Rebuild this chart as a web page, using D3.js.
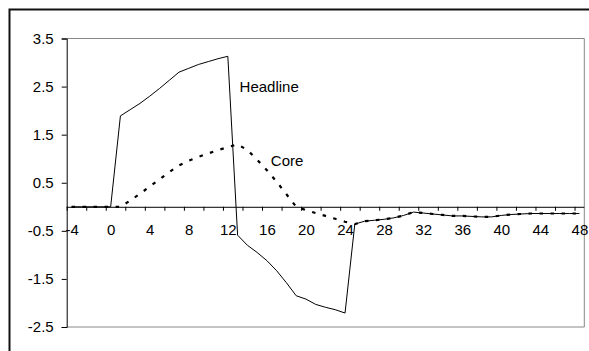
<!DOCTYPE html>
<html>
<head>
<meta charset="utf-8">
<script src="https://cdn.jsdelivr.net/npm/d3@7"></script>
<style>
  html, body { margin: 0; padding: 0; background: #fff; overflow: hidden; }
  svg { display: block; font-family: "Liberation Sans", Arial, sans-serif; }
</style>
</head>
<body>
<svg id="chart" width="589" height="351"></svg>
<script>
// Months relative to the shock
const months = d3.range(-4, 49);

// Headline response
const headline = [
  0, 0, 0, 0, 0,
  1.89, 2.02, 2.15, 2.30, 2.46, 2.63, 2.80, 2.88, 2.96, 3.02, 3.08, 3.13,
  -0.59, -0.80, -0.95, -1.12, -1.33, -1.58, -1.85, -1.92, -2.03, -2.09, -2.14, -2.21,
  -0.36, -0.30, -0.28, -0.26, -0.23, -0.18, -0.11, -0.13, -0.15, -0.17, -0.19, -0.19,
  -0.20, -0.21, -0.21, -0.18, -0.16, -0.15, -0.14, -0.14, -0.14, -0.14, -0.14, -0.14
];

// Core response
const core = [
  0, 0, 0, 0, 0, 0,
  0.13, 0.27, 0.42, 0.57, 0.72, 0.86, 0.96, 1.04, 1.11, 1.18, 1.24, 1.30,
  1.18, 0.98, 0.76, 0.52, 0.26, 0.00, -0.07, -0.13, -0.19, -0.25, -0.31, -0.36,
  -0.30, -0.28, -0.26, -0.23, -0.18, -0.11, -0.13, -0.15, -0.17, -0.19, -0.19,
  -0.20, -0.21, -0.21, -0.18, -0.16, -0.15, -0.14, -0.14, -0.14, -0.14, -0.14, -0.14
];

const xTickLabels = d3.range(-4, 49, 4);
const yTickLabels = [-2.5, -1.5, -0.5, 0.5, 1.5, 2.5, 3.5];

// Series labels, placed in data coordinates
const seriesLabels = [
  { text: "Headline", month: 13.2, value: 2.38 },
  { text: "Core", month: 16.4, value: 0.85 }
];

const svg = d3.select("#chart");
const plotLeft = 66.7, plotRight = 584.3, plotTop = 38.5, plotBottom = 327;

// Category axis: each month occupies one slot, points sit at slot centres
const x = d3.scaleLinear().domain([-4.5, 48.5]).range([plotLeft, plotRight]);
const y = d3.scaleLinear().domain([-2.5, 3.5]).range([plotBottom, plotTop]);

// Outer chart frame (left and top edges fall inside the canvas)
svg.append("path")
  .attr("d", "M9.5,351V9.5H589")
  .attr("fill", "none").attr("stroke", "#111").attr("stroke-width", 2);

// Plot area frame: top, right and bottom edges in grey
svg.append("path")
  .attr("d", `M${plotLeft},${plotTop}H${plotRight}V${plotBottom}H${plotLeft}`)
  .attr("fill", "none").attr("stroke", "#888").attr("stroke-width", 1);

// Y axis
const yAxis = svg.append("g")
  .attr("transform", `translate(${plotLeft},0)`)
  .call(d3.axisLeft(y).tickValues(yTickLabels).tickSize(5).tickPadding(8)
    .tickFormat(d => d.toFixed(1)));
yAxis.select(".domain").attr("stroke", "#000");
yAxis.selectAll("line").attr("stroke", "#000");
yAxis.selectAll("text").attr("font-size", 15).attr("fill", "#000")
  .attr("font-family", "'Liberation Sans', Arial, sans-serif");

// X axis tick marks at slot boundaries, every second month
const xMarks = svg.append("g")
  .attr("transform", `translate(0,${y(0)})`)
  .call(d3.axisBottom(x).tickValues(d3.range(-4.5, 48.5, 2)).tickSize(4).tickSizeOuter(0)
    .tickFormat(""));
xMarks.select(".domain").attr("stroke", "#000")
  .attr("d", `M${plotLeft},0.5H${plotRight}`);
xMarks.selectAll("line").attr("stroke", "#000");

// X axis labels, every fourth month
const xLabels = svg.append("g")
  .attr("transform", `translate(0,${y(0)})`)
  .call(d3.axisBottom(x).tickValues(xTickLabels).tickSize(0).tickFormat(d => String(d)));
xLabels.select(".domain").remove();
xLabels.selectAll("text")
  .attr("y", 28.7).attr("dy", 0)
  .attr("font-size", 15).attr("fill", "#000")
  .attr("font-family", "'Liberation Sans', Arial, sans-serif");

const line = d3.line().x((d, i) => x(months[i])).y(d => y(d));

// Headline: solid line
svg.append("path")
  .datum(headline)
  .attr("d", line)
  .attr("fill", "none").attr("stroke", "#000").attr("stroke-width", 1);

// Core: dotted line
svg.append("path")
  .datum(core)
  .attr("d", line)
  .attr("fill", "none").attr("stroke", "#000").attr("stroke-width", 2.2)
  .attr("stroke-dasharray", "3.5,7.5");

// Series labels
svg.selectAll(".series-label")
  .data(seriesLabels)
  .join("text")
  .attr("class", "series-label")
  .attr("x", d => x(d.month))
  .attr("y", d => y(d.value))
  .attr("font-size", 15)
  .attr("fill", "#000")
  .text(d => d.text);
</script>
</body>
</html>
